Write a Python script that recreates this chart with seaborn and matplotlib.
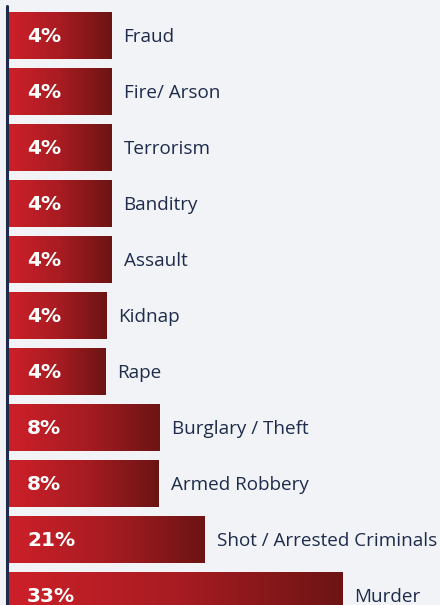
import numpy as np
import pandas as pd
import matplotlib.pyplot as plt
import seaborn as sns

# data read off the infographic (bars are not drawn to a linear scale)
categories = ["Fraud", "Fire/ Arson", "Terrorism", "Banditry", "Assault", "Kidnap",
              "Rape", "Burglary / Theft", "Armed Robbery", "Shot / Arrested Criminals",
              "Murder"]
pct_labels = ["4%", "4%", "4%", "4%", "4%", "4%", "4%", "8%", "8%", "21%", "33%"]
bar_length = [10.3, 10.3, 10.3, 10.3, 10.3, 9.8, 9.7, 15.1, 15.0, 19.6, 33.4]

df = pd.DataFrame({"category": categories, "length": bar_length, "label": pct_labels})

bg = "#f1f3f6"
navy = "#1e2b4a"

sns.set_style("white")
fig = plt.figure(figsize=(4.4, 6.05), dpi=100, facecolor=bg)
ax = fig.add_axes([0, 0, 1, 1])
ax.set_facecolor(bg)

sns.barplot(data=df, x="length", y="category", orient="h", width=0.84,
            color="#c8202a", ax=ax)

# red -> dark red gradient inside each bar
grad = np.linspace(0, 1, 256).reshape(1, -1)
cmap = plt.matplotlib.colors.LinearSegmentedColormap.from_list(
    "redgrad", ["#cd2029", "#a81c22", "#6c1414"])
for p in ax.patches:
    x0, y0 = p.get_x(), p.get_y()
    w, h = p.get_width(), p.get_height()
    im = ax.imshow(grad, cmap=cmap, aspect="auto", extent=[x0, x0 + w, y0 + h, y0],
                   zorder=2, interpolation="bicubic")
    im.set_clip_path(p)
    p.set_facecolor("none")
    p.set_edgecolor("none")

ax.set_xlim(-0.8, 43.2)
ax.set_ylim(10.17, -0.634)

# left axis line
ax.axvline(-0.15, ymin=0, ymax=1 - 6 / 605, color=navy, lw=2.2, zorder=3)

for i, row in df.iterrows():
    ax.text(1.9, i + 0.015, row["label"], color="white", fontsize=14.5, fontweight="bold",
            family="DejaVu Sans", va="center", ha="left", zorder=4)
    ax.text(row["length"] + 1.25, i + 0.03, row["category"], color=navy, fontsize=13.6,
            family="Open Sans", va="center", ha="left", zorder=4)

ax.set_xlabel("")
ax.set_ylabel("")
ax.set_xticks([])
ax.set_yticks([])
sns.despine(ax=ax, left=True, bottom=True)

plt.savefig("out.png", dpi=100, facecolor=bg)
plt.close()
